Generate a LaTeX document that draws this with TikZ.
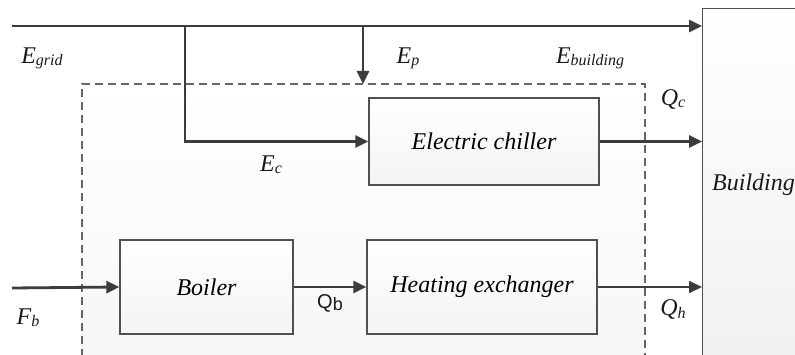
\documentclass[tikz,border=0pt]{standalone}
\usepackage{fontspec}
\setmainfont{Liberation Serif}
\newfontfamily\qbfont{Liberation Sans}
\usetikzlibrary{arrows.meta,positioning}
\definecolor{ln}{HTML}{3C3C3C}
\definecolor{bx}{HTML}{505050}
\tikzset{
  flow/.style={draw=ln, line width=2.8pt, -{Triangle[length=13pt,width=12pt]}},
  unit/.style={draw=bx, line width=1.3pt, top color=white, bottom color=gray!9, inner sep=0pt, font=\fontsize{24}{28}\selectfont\itshape},
  lab/.style={font=\fontsize{24}{28}\selectfont\itshape, inner sep=0pt, text=black!90},
}
\newcommand{\sbs}[1]{\raisebox{-2pt}{\fontsize{16}{18}\selectfont #1}}
\begin{document}
\begin{tikzpicture}[x=1pt,y=-1pt]
\useasboundingbox (0,0) rectangle (795,355);
\clip (0,0) rectangle (795,355);
% dashed boundary
\path[top color=white, bottom color=gray!7] (82,84) rectangle (645,370);
\draw[draw=black!60, line width=1.3pt, dash pattern=on 8pt off 5pt] (82,370) -- (82,84) -- (645,84) -- (645,370);
% building
\node[unit, anchor=north west, minimum width=110pt, minimum height=370pt, top color=white, bottom color=gray!12] (bld) at (702,8) {};
\node[lab, anchor=west] (bldt) at (712,185) {Building};
% units
\node[unit, minimum width=230pt, minimum height=87pt] (ch) at (484,141.5) {Electric chiller};
\node[unit, minimum width=173pt, minimum height=94pt] (bo) at (206.5,287) {Boiler};
\node[unit, minimum width=230pt, minimum height=94pt] (hx) at (482,287) {Heating exchanger};
% coordinates
\coordinate (gin) at (12,26);
\coordinate (j1) at (185,26);
\coordinate (j2) at (363,26);
\coordinate (epend) at (363,84);
\coordinate (fin) at (12,288);
% connectors
\draw[flow] (gin) -- (gin -| bld.west);
\draw[flow] (j1) |- (ch.west);
\draw[flow] (j2) -- (epend);
\draw[flow] (ch.east) -- (ch.east -| bld.west);
\draw[flow] (fin) -- (bo.west);
\draw[flow] (bo.east) -- (hx.west);
\draw[flow, line width=1.7pt] (hx.east) -- (hx.east -| bld.west);
% labels
\node[lab] (egrid) at (42,58) {E\sbs{grid}};
\node[lab] (ep) at (408,58) {E\sbs{p}};
\node[lab] (ebld) at (590,58) {E\sbs{building}};
\node[lab] (qc) at (673,100) {Q\sbs{c}};
\node[lab] (ec) at (271,165) {E\sbs{c}};
\node[lab, font=\qbfont\fontsize{20}{22}\selectfont] (qb) at (330,303) {Q\sbs{\qbfont\fontsize{18}{20}\selectfont b}};
\node[lab] (fb) at (28,318) {F\sbs{b}};
\node[lab] (qh) at (673,310) {Q\sbs{h}};
\end{tikzpicture}
\end{document}
